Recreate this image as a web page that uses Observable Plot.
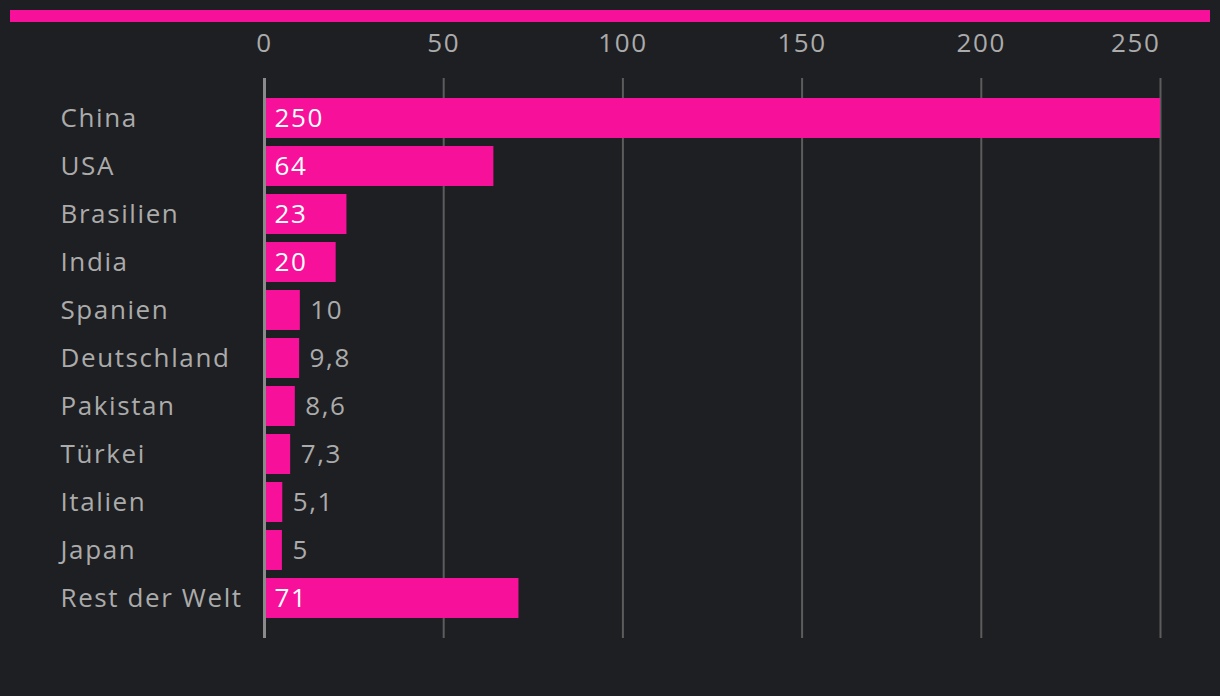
<!DOCTYPE html>
<html>
<head>
<meta charset="utf-8">
<script src="https://cdn.jsdelivr.net/npm/d3@7"></script>
<script src="https://cdn.jsdelivr.net/npm/@observablehq/plot@0.6"></script>
<style>
  html, body { margin: 0; padding: 0; background: #1e1f22; }
  body { width: 1220px; height: 696px; overflow: hidden; font-family: "Open Sans", sans-serif; }
  .band { margin: 10px 10px 0 10px; height: 12px; background: #f7109a; }
  #chart svg { display: block; }
  #chart svg text { letter-spacing: 1.6px; }
</style>
</head>
<body>
<div class="band"></div>
<div id="chart"></div>
<script>
const countries = ["China", "USA", "Brasilien", "India", "Spanien", "Deutschland", "Pakistan", "Türkei", "Italien", "Japan", "Rest der Welt"];
const values = [250, 64, 23, 20, 10, 9.8, 8.6, 7.3, 5.1, 5, 71];
const xTicks = [0, 50, 100, 150, 200, 250];

const data = countries.map((c, i) => ({country: c, value: values[i]}));
const fmt = v => String(v).replace(".", ",");
const inside = data.filter(d => d.value >= 20);
const outside = data.filter(d => d.value < 20);

const pink = "#f7109a";
const gray = "#ababab";
const font = "'Open Sans', sans-serif";
const fs = 26;

const chart = Plot.plot({
  width: 1220,
  height: 674,
  marginLeft: 264,
  marginRight: 60,
  marginTop: 56,
  marginBottom: 58,
  style: {background: "transparent", fontFamily: font, fontSize: fs + "px", color: gray},
  x: {domain: [0, 250], axis: null},
  y: {domain: countries, paddingInner: 1/6, paddingOuter: 5/12, round: false, axis: null},
  marks: [
    Plot.ruleX(xTicks.slice(1), {stroke: "#5c5c5c", strokeWidth: 2}),
    Plot.barX(data, {x1: 0, x2: "value", y: "country", fill: pink}),
    Plot.ruleX([0], {stroke: "#8a8a8a", strokeWidth: 3}),
    Plot.text(xTicks.slice(0, -1), {x: d => d, text: d => String(d), frameAnchor: "top", dy: -35, lineAnchor: "middle",
      textAnchor: "middle", fill: gray, fontSize: fs}),
    Plot.text(xTicks.slice(-1), {x: d => d, text: d => String(d), frameAnchor: "top", dy: -35, lineAnchor: "middle",
      textAnchor: "end", fill: gray, fontSize: fs}),
    Plot.text(inside, {x: 0, y: "country", text: d => fmt(d.value), textAnchor: "start", dx: 10, fill: "#ffffff", fontSize: fs}),
    Plot.text(outside, {x: "value", y: "country", text: d => fmt(d.value), textAnchor: "start", dx: 10, fill: gray, fontSize: fs}),
    Plot.text(data, {x: 0, y: "country", text: "country", textAnchor: "start", dx: -204, fill: gray, fontSize: fs})
  ]
});
document.getElementById("chart").appendChild(chart);
</script>
</body>
</html>
